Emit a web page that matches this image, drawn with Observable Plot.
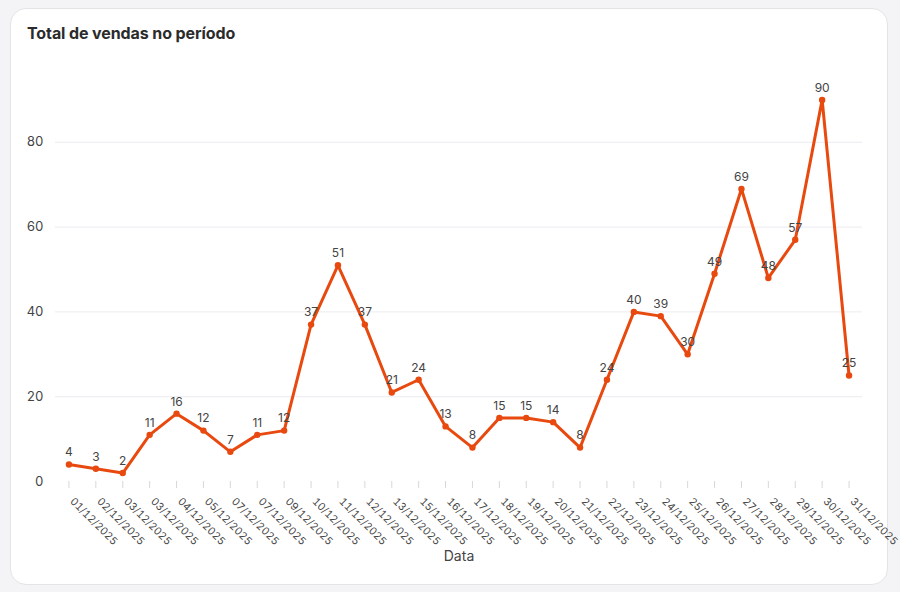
<!DOCTYPE html>
<html>
<head>
<meta charset="utf-8">
<script src="https://cdn.jsdelivr.net/npm/d3@7"></script>
<script src="https://cdn.jsdelivr.net/npm/@observablehq/plot@0.6"></script>
<style>
  html, body { margin: 0; padding: 0; background: #f4f4f6; width: 900px; height: 592px; overflow: hidden; }
  #card { position: absolute; left: 10px; top: 8px; width: 876px; height: 575px; background: #fff;
          border: 1px solid #e4e4e7; border-radius: 16px; }
  #title { position: absolute; left: 27px; top: 23px; font-family: Inter, "Noto Sans", sans-serif;
           font-weight: 700; font-size: 16px; color: #2b2b2b; letter-spacing: -0.1px; }
  #chart { position: absolute; left: 0; top: 0; }
  #chart svg { overflow: visible; }
</style>
</head>
<body>
<div id="card"></div>
<div id="title">Total de vendas no período</div>
<div id="chart"></div>
<script>
const dateLabels = ["01/12/2025","02/12/2025","03/12/2025","03/12/2025","04/12/2025","05/12/2025","07/12/2025","07/12/2025","09/12/2025","10/12/2025","11/12/2025","12/12/2025","13/12/2025","15/12/2025","16/12/2025","17/12/2025","18/12/2025","19/12/2025","20/12/2025","21/12/2025","22/12/2025","23/12/2025","24/12/2025","25/12/2025","26/12/2025","27/12/2025","28/12/2025","29/12/2025","30/12/2025","31/12/2025"];
const sales = [4,3,2,11,16,12,7,11,12,37,51,37,21,24,13,8,15,15,14,8,24,40,39,30,49,69,48,57,90,25];
const yTicks = [0,20,40,60,80];

const data = sales.map((v, i) => ({i, v, label: dateLabels[i]}));
const color = "#e8490f";

const chart = Plot.plot({
  width: 900,
  height: 592,
  marginLeft: 55,
  marginRight: 38,
  marginTop: 57,
  marginBottom: 111,
  style: {fontFamily: "Inter, 'Noto Sans', sans-serif", color: "#444", background: "transparent"},
  x: {domain: [-0.5, sales.length - 0.5], label: null},
  y: {domain: [0, 100], label: null},
  marks: [
    Plot.ruleY(yTicks.filter(d => d > 0), {stroke: "#ececf0", strokeWidth: 1}),
    Plot.axisY({ticks: yTicks, tickSize: 0, tickPadding: 12, fontSize: 13, fill: "#444", label: null}),
    Plot.axisX({ticks: d3.range(sales.length), tickSize: 7, stroke: "#d8d8dc", tickFormat: () => "", label: null}),
    Plot.axisX({ticks: d3.range(sales.length), tickFormat: i => dateLabels[i], tickSize: 0,
                tickRotate: 45, tickPadding: 18, dx: 3, fontSize: 10.5, fill: "#444", label: null}),
    Plot.text(["Data"], {frameAnchor: "bottom", dy: 79, fontSize: 14, fill: "#444"}),
    Plot.line(data, {x: "i", y: "v", stroke: color, strokeWidth: 3, strokeLinejoin: "round"}),
    Plot.dot(data, {x: "i", y: "v", r: 3.2, fill: color}),
    Plot.text(data, {x: "i", y: "v", text: d => String(d.v), dy: -12, fontSize: 12, fill: "#444"})
  ]
});
document.getElementById("chart").append(chart);
</script>
</body>
</html>
